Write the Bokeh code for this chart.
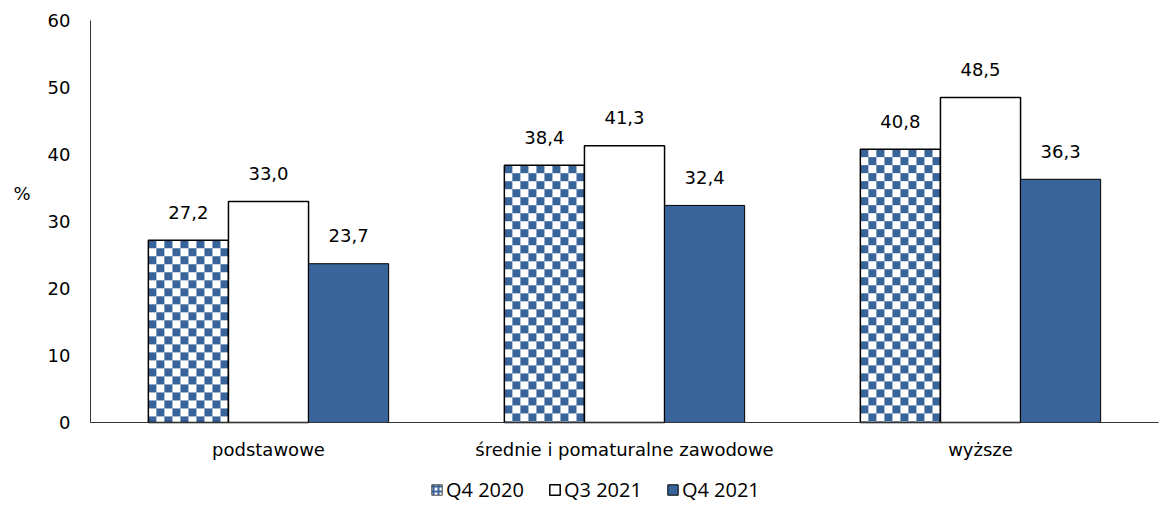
import numpy as np
from bokeh.plotting import figure
from bokeh.models import ColumnDataSource, LabelSet, Label, Legend, LegendItem
from bokeh.transform import dodge
from bokeh.core.properties import value
from bokeh.embed import file_html
from bokeh.resources import INLINE

categories = ["podstawowe", "średnie i pomaturalne zawodowe", "wyższe"]
series_names = ["Q4 2020", "Q3 2021", "Q4 2021"]
q4_2020 = [27.2, 38.4, 40.8]
q3_2021 = [33.0, 41.3, 48.5]
q4_2021 = [23.7, 32.4, 36.3]
y_ticks = [0, 10, 20, 30, 40, 50, 60]

BLUE = "#386499"
FONT = "DejaVu Sans"
W, H = 1164, 521
LEFT_PX, TOP_PX, ZERO_PX, CAT_PX = 90, 20, 422, 356   # layout of the plotting area
YMAX = y_ticks[-1]
px_per_unit = (ZERO_PX - TOP_PX) / YMAX
y_start = -(H - ZERO_PX) / px_per_unit
y_end = YMAX + TOP_PX / px_per_unit
x_start = -LEFT_PX / CAT_PX
x_end = x_start + W / CAT_PX

p = figure(x_range=(x_start, x_end), y_range=(y_start, y_end), width=W, height=H,
           output_backend="svg", toolbar_location=None, min_border=0,
           x_axis_location=None, y_axis_location=None)

fmt = lambda v: [f"{x:.1f}".replace(".", ",") for x in v]
n = len(categories)
src = ColumnDataSource(dict(cat=categories, xc=[i + 0.5 for i in range(n)],
                            a=q4_2020, b=q3_2021, c=q4_2021,
                            la=fmt(q4_2020), lb=fmt(q3_2021), lc=fmt(q4_2021),
                            zero=[0] * n))

w = 0.225
bar_px = int(round(w * CAT_PX))
br, bg, bb_ = int(BLUE[1:3], 16), int(BLUE[3:5], 16), int(BLUE[5:7], 16)
blue32 = np.uint32((255 << 24) | (bb_ << 16) | (bg << 8) | br)
white32 = np.uint32(0xFFFFFFFF)
imgs, xs = [], []
for i, v in enumerate(q4_2020):
    hpx = max(1, int(round(v * px_per_unit)))
    yy, xx = np.mgrid[0:hpx, 0:bar_px]
    yy = hpx - 1 - yy
    chk = ((yy // 8 + xx // 8) % 2 == 0)
    imgs.append(np.where(chk, blue32, white32).astype(np.uint32))
    xs.append(i + 0.5 - 1.5 * w)
p.image_rgba(image=imgs, x=xs, y=[0] * n, dw=[w] * n, dh=q4_2020)

leg1 = p.vbar(x=dodge("xc", -w), top="zero", width=w, source=src,
              fill_color="white", line_color="#444444",
              hatch_pattern="cross", hatch_color=BLUE, hatch_scale=5, hatch_weight=2)
r1 = p.vbar(x=dodge("xc", -w), top="a", width=w, source=src,
            fill_alpha=0, line_color="black", line_width=1.5)
r2 = p.vbar(x=dodge("xc", 0), top="b", width=w, source=src,
            fill_color="white", line_color="black", line_width=1.5)
r3 = p.vbar(x=dodge("xc", w), top="c", width=w, source=src,
            fill_color=BLUE, line_color="black", line_width=1)

# axes lines
p.segment(x0=[0], y0=[y_ticks[0]], x1=[0], y1=[y_ticks[-1]], line_color="#333333", line_width=1)
p.segment(x0=[0], y0=[0], x1=[n], y1=[0], line_color="#333333", line_width=1)

# y tick labels
tsrc = ColumnDataSource(dict(y=y_ticks, x=[0] * len(y_ticks), t=[str(t) for t in y_ticks]))
p.add_layout(LabelSet(x="x", y="y", text="t", source=tsrc, text_align="right",
                      text_baseline="middle", x_offset=-20, text_font=value(FONT),
                      text_font_size="18px", text_color="black"))

for key, lab, off in [("a", "la", -w), ("b", "lb", 0), ("c", "lc", w)]:
    p.add_layout(LabelSet(x=dodge("xc", off), y=key, text=lab, source=src,
                          text_align="center", text_baseline="middle", y_offset=28,
                          text_font=value(FONT), text_font_size="18px", text_color="black"))

p.add_layout(LabelSet(x="xc", y="zero", text="cat", source=src, text_align="center",
                      text_baseline="middle", y_offset=-27, text_font=value(FONT),
                      text_font_size="18px", text_color="black"))

p.add_layout(Label(x=13, y=34.2, x_units="screen", y_units="data", text="%",
                   text_font=FONT, text_font_size="18px", text_color="black",
                   text_baseline="middle"))

legend = Legend(items=[LegendItem(label=series_names[0], renderers=[leg1]),
                       LegendItem(label=series_names[1], renderers=[r2]),
                       LegendItem(label=series_names[2], renderers=[r3])],
                orientation="horizontal", location=(430, 18),
                glyph_width=13, glyph_height=13, label_standoff=3, spacing=24,
                label_text_font="Open Sans", label_text_font_size="20px",
                label_text_color="black",
                border_line_color=None, background_fill_alpha=0, margin=0, padding=0)
p.add_layout(legend, "center")

p.xgrid.grid_line_color = None
p.ygrid.grid_line_color = None
p.outline_line_color = None

open("out.html", "w").write(file_html(p, INLINE))
